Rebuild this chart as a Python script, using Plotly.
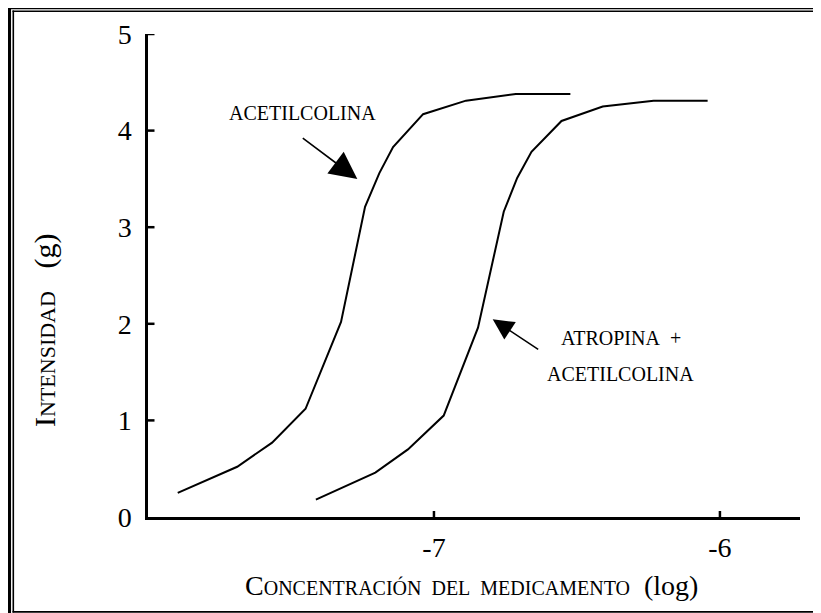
import plotly.graph_objects as go

# ---- data ----
acetil_x = [-7.896, -7.688, -7.566, -7.449, -7.325, -7.241, -7.191, -7.143, -7.038, -6.888, -6.714, -6.523]
acetil_y = [0.25, 0.52, 0.77, 1.12, 2.02, 3.21, 3.56, 3.83, 4.17, 4.31, 4.38, 4.38]
atrop_x = [-7.413, -7.205, -7.091, -6.966, -6.846, -6.756, -6.709, -6.659, -6.554, -6.410, -6.232, -6.043]
atrop_y = [0.18, 0.46, 0.70, 1.05, 1.96, 3.16, 3.51, 3.78, 4.10, 4.25, 4.31, 4.31]
x_tick_vals = [-7, -6]
x_tick_text = ["-7", "-6"]
y_tick_vals = [0, 1, 2, 3, 4, 5]
y_tick_text = ["0", "1", "2", "3", "4", "5"]

# page has an 8px body margin: figure coords = page coords - 8
OFF = 8
W, H = 821 - OFF, 613 - OFF
ML, MR, MT, MB = 148 - OFF, 21, 34 - OFF, 96
PW, PH = W - ML - MR, H - MT - MB
SERIF = "Liberation Serif, Times New Roman, serif"


def pxx(px):
    return (px - OFF - ML) / PW


def pxy(py):
    return (H - MB - (py - OFF)) / PH


fig = go.Figure()
fig.add_trace(go.Scatter(x=acetil_x, y=acetil_y, mode="lines",
                         line=dict(color="black", width=2), showlegend=False))
fig.add_trace(go.Scatter(x=atrop_x, y=atrop_y, mode="lines",
                         line=dict(color="black", width=2), showlegend=False))

shapes = []
# crossing tick marks
for v in x_tick_vals:
    shapes.append(dict(type="line", xref="x", yref="y", x0=v, x1=v,
                       ysizemode="pixel", yanchor=0, y0=-6, y1=6,
                       line=dict(color="black", width=2.5)))
for v in y_tick_vals[1:]:
    shapes.append(dict(type="line", xref="x", yref="y", y0=v, y1=v,
                       xsizemode="pixel", xanchor=-8, x0=-6.5, x1=6.5,
                       line=dict(color="black", width=2.5)))
# frame (double line on left/top, thin at bottom)
shapes += [
    dict(type="line", xref="paper", yref="paper", x0=pxx(8.9), x1=pxx(8.9), y0=pxy(5), y1=pxy(614),
         line=dict(color="black", width=4.3)),
    dict(type="line", xref="paper", yref="paper", x0=pxx(6.7), x1=pxx(822), y0=pxy(7.2), y1=pxy(7.2),
         line=dict(color="black", width=4.3)),
    dict(type="line", xref="paper", yref="paper", x0=pxx(13.3), x1=pxx(13.3), y0=pxy(10.5), y1=pxy(612.5),
         line=dict(color="black", width=1.6)),
    dict(type="line", xref="paper", yref="paper", x0=pxx(12.5), x1=pxx(822), y0=pxy(11.2), y1=pxy(11.2),
         line=dict(color="black", width=1.6)),
    dict(type="line", xref="paper", yref="paper", x0=pxx(12.5), x1=pxx(822), y0=pxy(611.8), y1=pxy(611.8),
         line=dict(color="black", width=1.8)),
]

annotations = [
    # x title
    dict(xref="paper", yref="paper", x=pxx(471), y=pxy(585), xanchor="center", yanchor="middle",
         showarrow=False,
         text='C<span style="font-size:20px">ONCENTRACIÓN\u00a0 DEL\u00a0 MEDICAMENTO</span>\u00a0 (log)',
         font=dict(family=SERIF, size=28, color="black")),
    # y title
    dict(xref="paper", yref="paper", x=pxx(45), y=pxy(331), xanchor="center", yanchor="middle",
         showarrow=False, textangle=-90,
         text='I<span style="font-size:22px">NTENSIDAD</span>\u00a0\u00a0 (g)',
         font=dict(family=SERIF, size=30, color="black")),
    # labels
    dict(xref="paper", yref="paper", x=pxx(302), y=pxy(112.7), xanchor="center", yanchor="middle",
         showarrow=False, text="ACETILCOLINA", font=dict(family=SERIF, size=20, color="black")),
    dict(xref="paper", yref="paper", x=pxx(621), y=pxy(338.3), xanchor="center", yanchor="middle",
         showarrow=False, text="ATROPINA\u00a0 +", font=dict(family=SERIF, size=20, color="black")),
    dict(xref="paper", yref="paper", x=pxx(620), y=pxy(374), xanchor="center", yanchor="middle",
         showarrow=False, text="ACETILCOLINA", font=dict(family=SERIF, size=20, color="black")),
    # arrows
    dict(xref="paper", yref="paper", x=pxx(357.3), y=pxy(179), ax=-56, ay=-42, text="",
         showarrow=True, arrowhead=2, arrowsize=3.4, arrowwidth=1.6, arrowcolor="black"),
    dict(xref="paper", yref="paper", x=pxx(492.7), y=pxy(319.3), ax=47, ay=31, text="",
         showarrow=True, arrowhead=2, arrowsize=2.6, arrowwidth=1.6, arrowcolor="black"),
]

fig.update_layout(
    width=W, height=H,
    margin=dict(l=ML, r=MR, t=MT, b=MB),
    paper_bgcolor="white", plot_bgcolor="white",
    shapes=shapes, annotations=annotations,
    xaxis=dict(range=[-8, -5.72], showgrid=False, zeroline=False, showline=True,
               linecolor="black", linewidth=2.5, ticks="",
               tickvals=x_tick_vals, ticktext=x_tick_text, ticklabelstandoff=4,
               tickfont=dict(family=SERIF, size=28, color="black")),
    yaxis=dict(range=[0, 5], showgrid=False, zeroline=False, showline=True,
               linecolor="black", linewidth=2.5, ticks="",
               tickvals=y_tick_vals, ticktext=y_tick_text, ticklabelstandoff=8,
               tickfont=dict(family=SERIF, size=28, color="black")),
)

fig.write_html("out.html")
